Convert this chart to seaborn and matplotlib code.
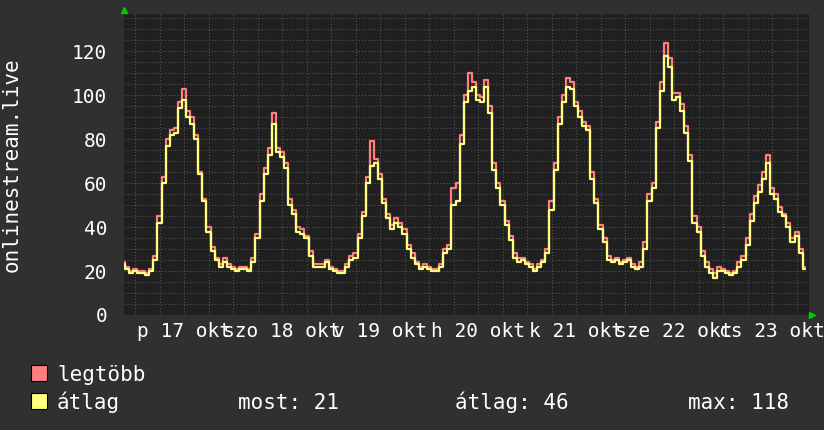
import pandas as pd
import seaborn as sns
import matplotlib.pyplot as plt
import matplotlib.dates as mdates
from matplotlib.ticker import MultipleLocator, FuncFormatter, NullFormatter
from matplotlib.patches import Rectangle

# hourly samples, first one at 2025-10-16 21:00
start = '2025-10-16 21:00'

atlag = [23, 21, 19,
         20, 19, 19, 18, 20, 25, 42, 60, 77, 82, 83, 94,
         98, 90, 87, 80, 64, 52, 38, 29, 25, 22, 24, 22,
         21, 20, 21, 21, 20, 24, 35, 52, 64, 73, 87, 74,
         72, 67, 50, 46, 38, 37, 35, 27, 22, 22, 22, 24,
         21, 20, 19, 19, 22, 25, 26, 35, 45, 60, 68, 69,
         62, 51, 44, 39, 42, 40, 37, 30, 26, 23, 21, 22,
         21, 20, 20, 22, 28, 30, 50, 52, 78, 97, 102, 104,
         98, 97, 104, 92, 66, 58, 50, 41, 34, 26, 24, 25,
         23, 22, 20, 22, 24, 28, 48, 66, 87, 97, 104, 103,
         95, 90, 86, 84, 62, 51, 39, 33, 25, 24, 25, 23,
         24, 25, 22, 21, 22, 30, 52, 58, 85, 102, 118, 113,
         98, 99, 93, 83, 70, 42, 38, 27, 22, 19, 17, 20,
         20, 19, 18, 19, 22, 25, 32, 43, 51, 56, 62, 69,
         55, 53, 47, 45, 40, 33, 36, 28, 21]

legtobb = [24, 22, 20,
           21, 20, 20, 19, 21, 27, 45, 63, 80, 84, 85, 97,
           103, 93, 90, 82, 65, 53, 40, 31, 26, 23, 26, 23,
           22, 21, 22, 22, 21, 26, 37, 55, 67, 76, 92, 76,
           74, 69, 53, 48, 40, 39, 36, 29, 23, 23, 23, 25,
           22, 21, 20, 20, 23, 27, 28, 37, 47, 63, 79, 71,
           64, 53, 46, 41, 44, 42, 39, 32, 28, 24, 22, 23,
           22, 21, 21, 23, 30, 32, 58, 60, 82, 100, 110, 106,
           100, 99, 107, 95, 69, 60, 52, 43, 36, 28, 26, 26,
           24, 23, 21, 23, 25, 30, 52, 69, 90, 100, 108, 106,
           97, 93, 88, 86, 65, 53, 41, 35, 27, 25, 26, 24,
           25, 26, 23, 22, 24, 33, 55, 60, 88, 106, 124, 117,
           101, 101, 96, 86, 73, 45, 40, 29, 24, 21, 19, 22,
           21, 20, 19, 20, 24, 27, 35, 46, 54, 59, 65, 73,
           58, 55, 49, 46, 42, 35, 38, 30, 22]

day_dates = ['2025-10-17', '2025-10-18', '2025-10-19', '2025-10-20',
             '2025-10-21', '2025-10-22', '2025-10-23']
day_labels = ['p 17 okt', 'szo 18 okt', 'v 19 okt', 'h 20 okt',
              'k 21 okt', 'sze 22 okt', 'cs 23 okt']

series_names = ['legtöbb', 'átlag']
series_colors = ['#ff7f7f', '#ffff7f']
stat_texts = ['most: 21', 'átlag: 46', 'max: 118']

BG = '#303030'
PLOT_BG = '#202020'
FG = '#ffffff'

times = pd.date_range(start, periods=len(atlag), freq='h')
df = pd.DataFrame({
    'idő': list(times) * 2,
    'érték': legtobb + atlag,
    'sorozat': [series_names[0]] * len(legtobb) + [series_names[1]] * len(atlag),
})

sns.set_theme(style='dark')
plt.rcParams['font.family'] = ['DejaVu Sans Mono']

fig = plt.figure(figsize=(8.24, 4.30), dpi=100, facecolor=BG)
ax = fig.add_axes([124 / 824, 115 / 430, 685 / 824, 301 / 430])
ax.set_facecolor(PLOT_BG)

sns.lineplot(data=df, x='idő', y='érték', hue='sorozat', hue_order=series_names,
             palette=series_colors, drawstyle='steps-mid', linewidth=1.6,
             legend=False, ax=ax)

t0 = pd.Timestamp(day_dates[0])
ax.set_xlim(t0 - pd.Timedelta(hours=2.7), t0 + pd.Timedelta(hours=165.05))
ax.set_ylim(0, 137)
ax.set_xlabel('')
ax.set_ylabel('')

ax.yaxis.set_major_locator(MultipleLocator(20))
ax.yaxis.set_minor_locator(MultipleLocator(5))
ax.xaxis.set_major_locator(mdates.HourLocator(byhour=[0]))
ax.xaxis.set_minor_locator(mdates.HourLocator(byhour=[6, 12, 18]))
ax.xaxis.set_major_formatter(NullFormatter())

label_map = dict(zip(day_dates, day_labels))


def day_label(v, pos):
    d = pd.Timestamp(mdates.num2date(v)).tz_localize(None).round('min')
    if d.hour != 12:
        return ''
    return label_map.get(d.strftime('%Y-%m-%d'), '')


ax.xaxis.set_minor_formatter(FuncFormatter(day_label))

ax.grid(which='major', color='#8c4646', linestyle=(0, (1, 2)), linewidth=0.75)
ax.grid(which='minor', color='#565656', linestyle=(0, (1, 2)), linewidth=0.75)
ax.set_axisbelow(True)

ax.tick_params(which='both', length=0, colors=FG, labelsize=14)
ax.tick_params(axis='y', pad=12)
ax.tick_params(axis='x', which='minor', pad=5)
for s in ax.spines.values():
    s.set_visible(False)

# green axis arrows
ax.plot([0], [1.013], marker='^', color='#00cc00', markersize=5,
        transform=ax.transAxes, clip_on=False)
ax.plot([1.004], [0], marker='>', color='#00cc00', markersize=5,
        transform=ax.transAxes, clip_on=False)

fig.text(12 / 824, 1 - 165 / 430, 'onlinestream.live', rotation=90,
         ha='center', va='center', color=FG, fontsize=15)

# legend rows
base1 = 1 - 381 / 430
base2 = 1 - 409 / 430
for base, col in zip([base1, base2], series_colors):
    fig.patches.append(Rectangle((31 / 824, base), 16 / 824, 16 / 430,
                                 facecolor=col, edgecolor='black', linewidth=0.8,
                                 transform=fig.transFigure))
fig.text(57 / 824, base1, series_names[0], color=FG, fontsize=15, va='baseline')
fig.text(57 / 824, base2, series_names[1], color=FG, fontsize=15, va='baseline')
for xpx, txt in zip([238, 455, 688], stat_texts):
    fig.text(xpx / 824, base2, txt, color=FG, fontsize=15, va='baseline')

fig.savefig('out.png', dpi=100, facecolor=BG)
